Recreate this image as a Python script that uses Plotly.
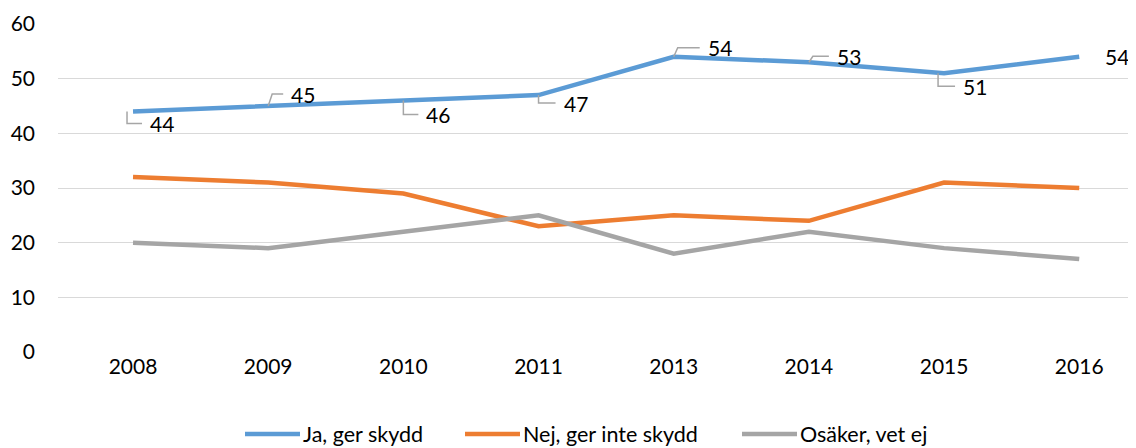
import plotly.graph_objects as go

years = ["2008", "2009", "2010", "2011", "2013", "2014", "2015", "2016"]
ja = [44, 45, 46, 47, 54, 53, 51, 54]
nej = [32, 31, 29, 23, 25, 24, 31, 30]
osaker = [20, 19, 22, 25, 18, 22, 19, 17]
names = ["Ja, ger skydd", "Nej, ger inte skydd", "Osäker, vet ej"]
colors = ["#5B9BD5", "#ED7D31", "#A5A5A5"]
y_ticks = [0, 10, 20, 30, 40, 50, 60]

# label placement for "Ja" labels: (x offset px, y offset px (up positive), leader?)
label_pos = [(15, -12, True), (21, 12, True), (21, -14, True), (23, -8, True),
             (32, 9, True), (26, 6, True), (17, -13, True), (24, 0, False)]

FONT = "Lato, Carlito, Calibri, sans-serif"
FS = 21
OFF = 8  # page body margin
W, H = 1136 - OFF, 448 - OFF
L, R, T, B = 58 - OFF, 0, 24 - OFF, 96
PW, PH = W - L - R, H - T - B


def px_x(px):
    return (px - OFF - L) / PW


def px_y(py):
    return (H - B - (py - OFF)) / PH


fig = go.Figure()
for vals, nm, c in zip([ja, nej, osaker], names, colors):
    fig.add_trace(go.Scatter(x=years, y=vals, name=nm, mode="lines",
                             line=dict(color=c, width=4.5), showlegend=False))

for i, (v, (dx, dy, lead)) in enumerate(zip(ja, label_pos)):
    fig.add_annotation(x=i, y=v, xref="x", yref="y", text=str(v),
                       showarrow=False, xanchor="left", yanchor="middle",
                       xshift=dx, yshift=dy,
                       font=dict(family=FONT, size=FS, color="#000000"))
    if lead:
        sx = -6 if dx < 20 else 0
        ex = sx + (4 if dy > 0 else 0)
        path = f"M {sx},0 L {ex},{dy} L {dx - 6},{dy}"
        fig.add_shape(type="path", xref="x", yref="y", xsizemode="pixel",
                      ysizemode="pixel", xanchor=i, yanchor=v, path=path,
                      line=dict(color="#A6A6A6", width=1.5), layer="above")

# custom legend (long line samples like the original)
leg_line_x = [245, 465, 742]
leg_y = 434
for nm, c, lx in zip(names, colors, leg_line_x):
    fig.add_shape(type="line", xref="paper", yref="paper",
                  x0=px_x(lx), x1=px_x(lx + 55), y0=px_y(leg_y), y1=px_y(leg_y),
                  line=dict(color=c, width=4.5))
    fig.add_annotation(x=px_x(lx + 57), y=px_y(leg_y), xref="paper", yref="paper",
                       text=nm, showarrow=False, xanchor="left", yanchor="middle",
                       borderpad=0,
                       font=dict(family=FONT, size=21.5, color="#000000"))

fig.update_layout(
    width=W, height=H,
    margin=dict(l=L, r=R, t=T, b=B),
    plot_bgcolor="white", paper_bgcolor="white",
    font=dict(family=FONT, size=FS, color="#000000"),
    showlegend=False,
)
fig.update_xaxes(type="category", range=[-0.555, 7.42], showgrid=False,
                 showline=False, ticks="", zeroline=False, automargin=False,
                 tickfont=dict(size=FS))
fig.update_yaxes(range=[0, 60], tickvals=y_ticks, showgrid=True,
                 gridcolor="#D9D9D9", gridwidth=1.3, zeroline=False,
                 showline=False, ticks="", ticklabelstandoff=22, automargin=False,
                 tickfont=dict(size=FS))

fig.write_html("out.html")
